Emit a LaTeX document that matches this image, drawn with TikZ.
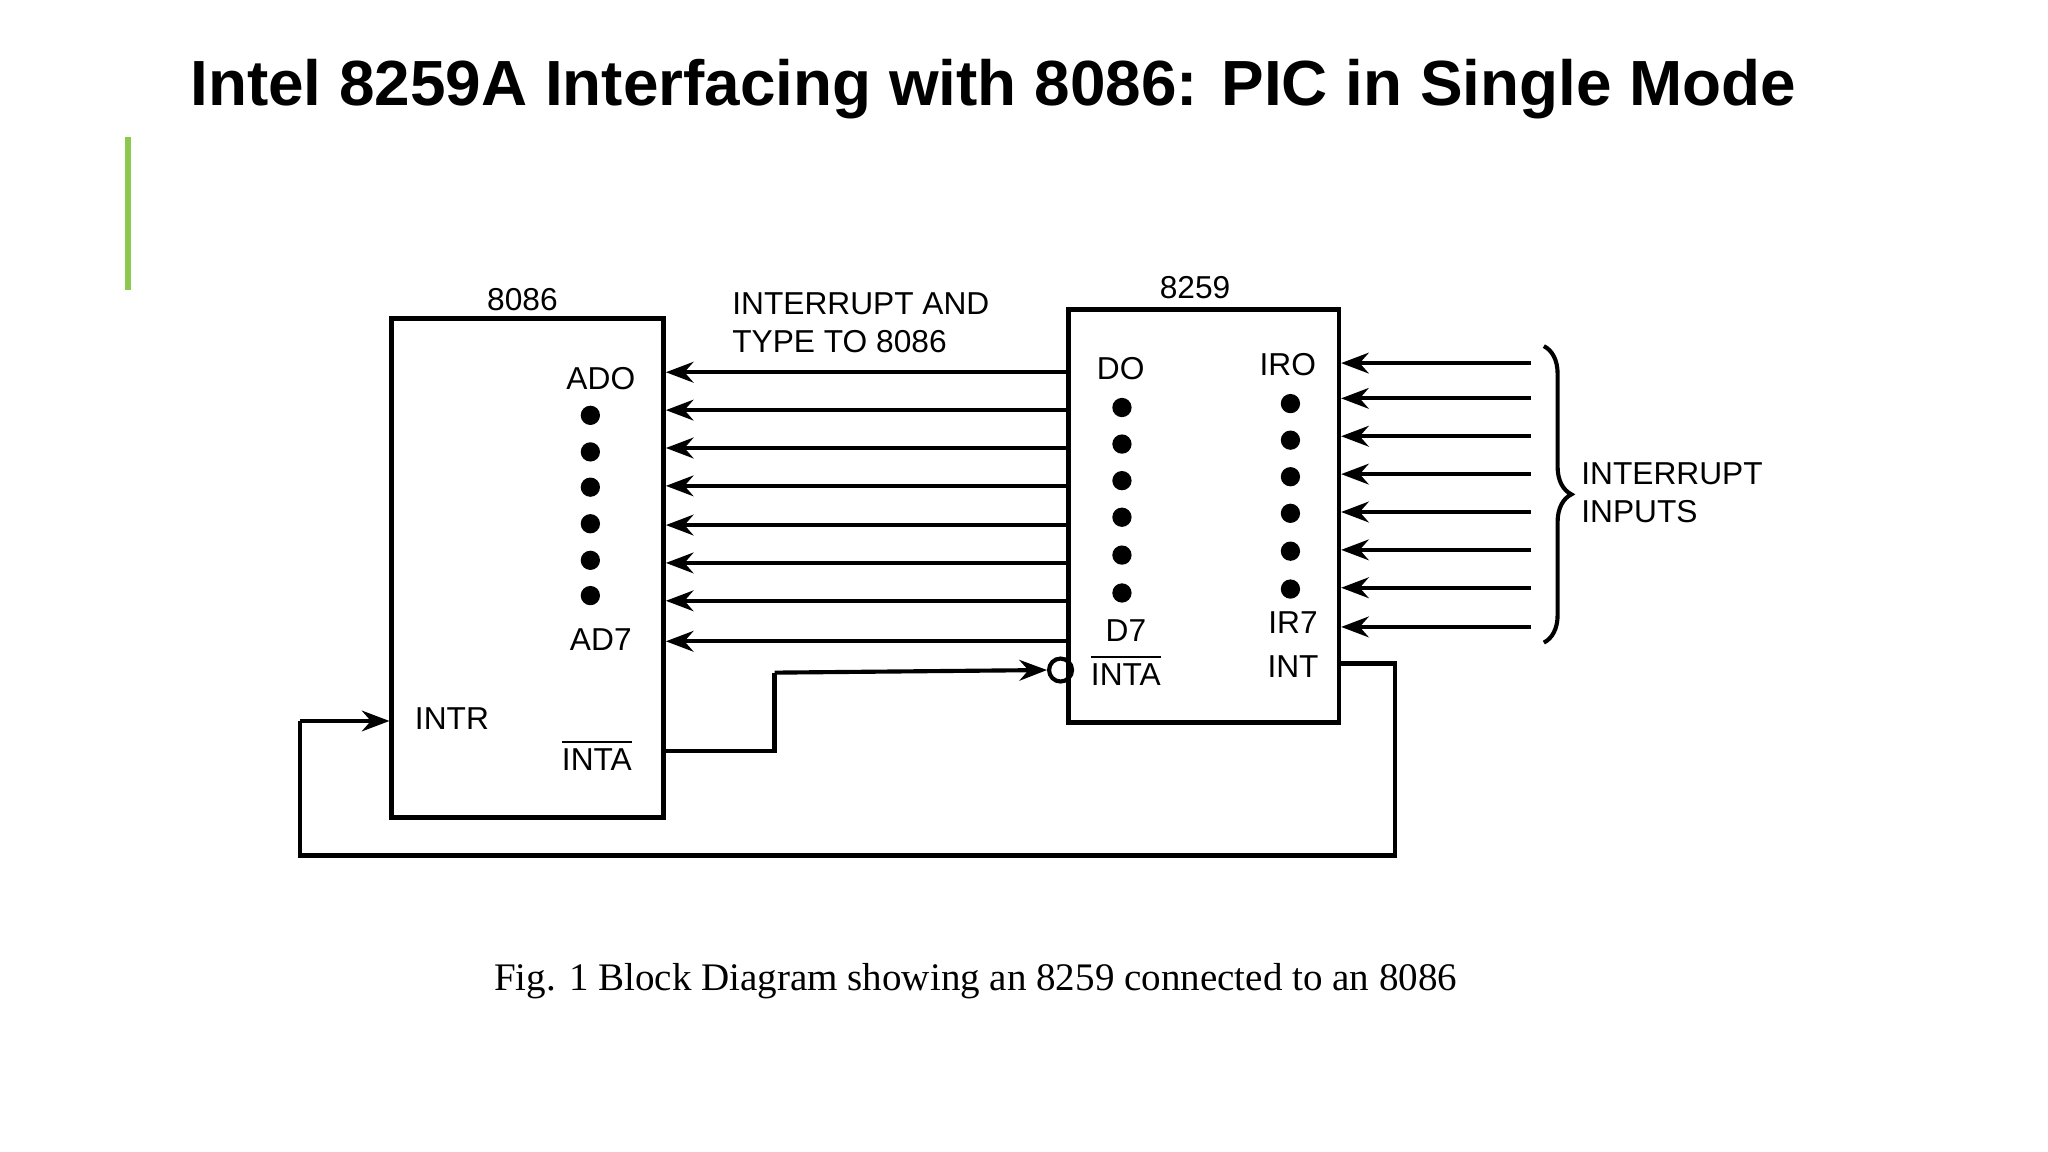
\documentclass[tikz,border=0pt]{standalone}
\usepackage{fontspec}
\setmainfont{Liberation Sans}
\newfontfamily\capfont{Liberation Serif}
\usetikzlibrary{arrows.meta,decorations.pathreplacing}
\begin{document}
\begin{tikzpicture}[x=0.01cm,y=-0.01cm,
  lbl/.style={font=\fontsize{6.9}{8.3}\selectfont,inner sep=0pt},
  wire/.style={line width=0.9pt},
  arr/.style={wire,-{Stealth[length=6pt,width=4.5pt]}},
  dot/.style={circle,fill=black,inner sep=0pt,minimum size=4.2pt}]
\useasboundingbox (0,0) rectangle (1568,882);
\node[anchor=west,font=\bfseries\fontsize{13.9}{16}\selectfont,inner sep=0pt] (title) at (145,68) {Intel 8259A Interfacing with 8086: PIC in Single Mode};
\draw[line width=1.2pt,color={rgb,255:red,140;green,200;blue,80}] (98,105) -- (98,222);
% boxes
\node[draw,line width=1pt,minimum width=2.08cm,minimum height=3.82cm,inner sep=0pt] (cpu) at (404,435) {};
\node[draw,line width=1pt,minimum width=2.07cm,minimum height=3.16cm,inner sep=0pt] (pic) at (921.5,395) {};
\node[lbl] (l8086) at (400,229) {8086};
\node[lbl] (l8259) at (915,220) {8259};
\node[lbl,align=left,anchor=west] (lint) at (560,247) {INTERRUPT AND\\TYPE TO 8086};
% CPU labels
\node[lbl] (ad0) at (460,290) {ADO};
\node[lbl] (ad7) at (460,490) {AD7};
\node[lbl] (intr) at (346,550) {INTR};
\node[lbl] (intac) at (457,578) {$\overline{\hbox{INTA}}$};
\foreach \y in {318,346,373,401,429,456} \node[dot] at (452,\y) {};
% PIC labels
\node[lbl] (d0) at (858,282) {DO};
\node[lbl] (d7) at (862,483) {D7};
\node[lbl] (intap) at (862,513) {$\overline{\hbox{INTA}}$};
\node[lbl] (ir0) at (986,279) {IRO};
\node[lbl] (ir7) at (990,477) {IR7};
\node[lbl] (intp) at (990,510) {INT};
\foreach \y in {312,340,368,396,425,454} \node[dot] at (859,\y) {};
\foreach \y in {309,337,365,393,422,451} \node[dot] at (988,\y) {};
% data bus
\foreach \y in {285,314,343,372,402,431,460,491}
  \draw[arr] (pic.west |- 0,\y) -- (cpu.east |- 0,\y);
% interrupt inputs
\foreach \y in {278,305,334,363,392,421,450,480} {
  \coordinate (s) at (1172,\y);
  \draw[arr] (s) -- (pic.east |- s);
}
\draw[wire,decorate,decoration={brace,amplitude=6pt}] (1182,265) -- (1182,492) coordinate[midway] (bm);
\node[lbl,align=left,anchor=west] (iin) at (1210,377) {INTERRUPT\\INPUTS};
% INTA line
\coordinate (c1) at (593,575);
\coordinate (c2) at (593,515);
\node[circle,draw,wire,inner sep=0pt,minimum size=5pt] (bub) at (812,513) {};
\draw[wire] (cpu.east |- c1) -- (c1) -- (c2);
\draw[arr] (c2) -- (bub.west);
% INT line
\coordinate (k1) at (1068,508);
\coordinate (k2) at (1068,655);
\coordinate (k3) at (230,655);
\coordinate (k4) at (230,552);
\draw[wire] (pic.east |- k1) -- (k1) -- (k2) -- (k3) -- (k4);
\draw[arr] (k4) -- (cpu.west |- k4);
\node[font=\capfont\fontsize{8.5}{10}\selectfont,inner sep=0pt] (cap) at (747,751) {Fig. 1 Block Diagram showing an 8259 connected to an 8086};
\end{tikzpicture}
\end{document}
